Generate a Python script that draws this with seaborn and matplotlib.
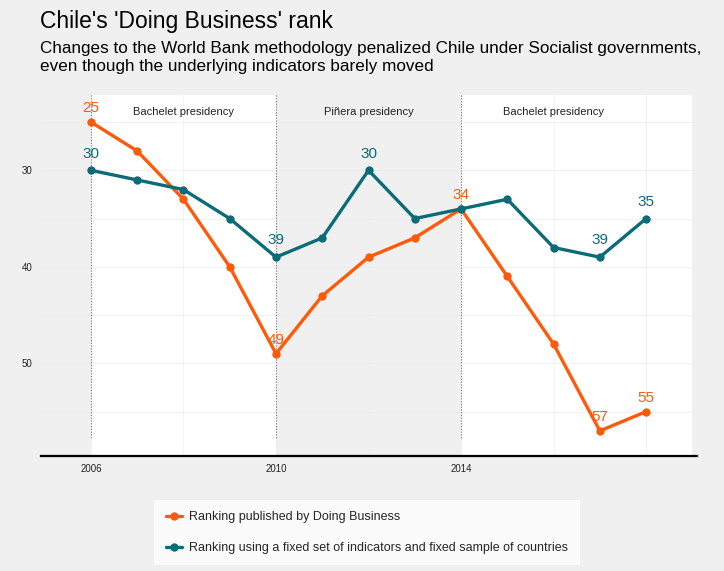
import matplotlib
matplotlib.use("Agg")
import matplotlib.pyplot as plt
import pandas as pd
import seaborn as sns

years = list(range(2006, 2019))
published = [25, 28, 33, 40, 49, 43, 39, 37, 34, 41, 48, 57, 55]
fixed = [30, 31, 32, 35, 39, 37, 30, 35, 34, 33, 38, 39, 35]
series_names = ["Ranking published by Doing Business",
                "Ranking using a fixed set of indicators and fixed sample of countries"]
labelled_published = [2006, 2010, 2014, 2017, 2018]
labelled_fixed = [2006, 2010, 2012, 2017, 2018]
presidencies = [(2006, 2010, "Bachelet presidency"),
                (2010, 2014, "Piñera presidency"),
                (2014, 2019, "Bachelet presidency")]

orange = "#ff5a0a"
teal = "#0b6b78"
bg = "#f0f0f0"

df = pd.DataFrame({
    "year": years * 2,
    "rank": published + fixed,
    "series": [series_names[0]] * len(years) + [series_names[1]] * len(years),
})

sns.set_style("white")
plt.rcParams["font.family"] = ["Liberation Sans", "DejaVu Sans"]

fig = plt.figure(figsize=(7.24, 5.71), dpi=100, facecolor=bg)
ax = fig.add_axes([0.0566, 0.2014, 0.9061, 0.6322])
ax.set_facecolor(bg)

# presidency shading + labels
for start, end, name in presidencies:
    if name.startswith("Bachelet"):
        ax.axvspan(start, end, color="white", zorder=0, lw=0)
    ax.text((start + min(end, 2018)) / 2, 24.0, name, ha="center", va="center",
            fontsize=8, color="#222222")
for x in [2006, 2010, 2014]:
    ax.plot([x, x], [22.2, 57.8], ls=(0, (1, 1.5)), color="#777777", lw=0.8, zorder=1)

# faint grid
for y in range(25, 60, 5):
    ax.axhline(y, color="#ebebeb", lw=0.5, zorder=0.5)
for x in range(2006, 2020, 2):
    ax.axvline(x, color="#eeeeee", lw=0.5, zorder=0.5)

sns.lineplot(data=df, x="year", y="rank", hue="series",
             palette=[orange, teal], marker="o", markersize=6,
             markeredgewidth=0, linewidth=2.4, ax=ax, zorder=3)

for yr, val in zip(years, published):
    if yr in labelled_published:
        ax.annotate(str(val), (yr, val), xytext=(0, 5), textcoords="offset points",
                    ha="center", va="bottom", fontsize=11, color=orange, zorder=4)
for yr, val in zip(years, fixed):
    if yr in labelled_fixed:
        ax.annotate(str(val), (yr, val), xytext=(0, 7), textcoords="offset points",
                    ha="center", va="bottom", fontsize=11, color=teal, zorder=4)

ax.set_xlim(2004.92, 2019.1)
ax.set_ylim(59.6, 22.2)
ax.set_xticks([2006, 2010, 2014])
ax.set_yticks([30, 40, 50])
ax.tick_params(axis="both", length=0, labelsize=7, colors="#222222", pad=6)
ax.set_xlabel("")
ax.set_ylabel("")
for side in ["top", "right", "left"]:
    ax.spines[side].set_visible(False)
ax.spines["bottom"].set_color("black")
ax.spines["bottom"].set_linewidth(1.6)

handles, labels = ax.get_legend_handles_labels()
ax.get_legend().remove()
leg = fig.legend(handles, labels, loc="upper center", bbox_to_anchor=(0.507, 0.124),
                 frameon=True, fontsize=9, facecolor="white", edgecolor="white",
                 fancybox=False, handlelength=1.3, borderpad=0.9, labelspacing=1.5,
                 borderaxespad=0, handletextpad=0.6)
leg.get_frame().set_linewidth(0)

fig.text(0.055, 0.963, "Chile's 'Doing Business' rank", fontsize=16.5, ha="left",
         va="center", color="black")
fig.text(0.055, 0.915, "Changes to the World Bank methodology penalized Chile under Socialist governments,",
         fontsize=12.3, ha="left", va="center", color="black")
fig.text(0.055, 0.884, "even though the underlying indicators barely moved",
         fontsize=12.3, ha="left", va="center", color="black")

fig.savefig("out.png", dpi=100, facecolor=bg)
